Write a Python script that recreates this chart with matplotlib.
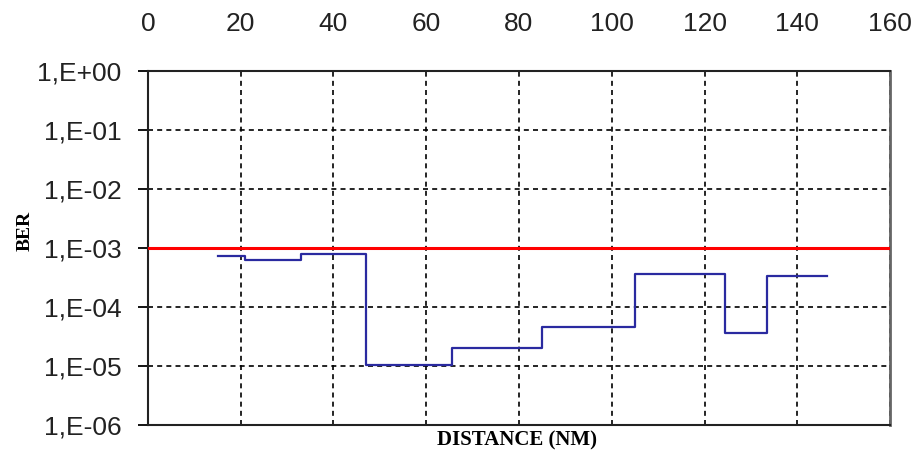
import numpy as np
import matplotlib
matplotlib.use("Agg")
import matplotlib.pyplot as plt

# distance (NM) where each BER level starts, last point closes the final step
distance = [15, 21, 33, 47, 65.5, 85, 105, 124.5, 133.5, 146.5]
ber = [7.3e-4, 6.2e-4, 7.8e-4, 1.05e-5, 2.0e-5, 4.6e-5, 3.6e-4, 3.6e-5, 3.4e-4, 3.4e-4]
ber_limit = 1e-3

x_ticks = [0, 20, 40, 60, 80, 100, 120, 140, 160]
y_ticks = [1e0, 1e-1, 1e-2, 1e-3, 1e-4, 1e-5, 1e-6]
y_labels = ["1,E+00", "1,E-01", "1,E-02", "1,E-03", "1,E-04", "1,E-05", "1,E-06"]

fig = plt.figure(figsize=(9.15, 4.53), dpi=100)
ax = fig.add_axes([0.1617, 0.0618, 0.8110, 0.7815])

ax.step(distance, ber, where="post", color="#2a2aa0", linewidth=1.6, zorder=3)
ax.axhline(ber_limit, color="#ff0000", linewidth=2.2, zorder=4)

ax.set_yscale("log")
ax.set_xlim(0, 160)
ax.set_ylim(1e-6, 1e0)
ax.set_yticks(y_ticks)
ax.set_yticklabels(y_labels)
ax.minorticks_off()
ax.set_xticks(x_ticks)
ax.xaxis.tick_top()

ax.tick_params(axis="x", length=0, pad=25, labelsize=19, labelcolor="#222222")
ax.tick_params(axis="y", length=7, width=1.3, pad=12, labelsize=19, labelcolor="#222222")
for lab in ax.get_xticklabels() + ax.get_yticklabels():
    lab.set_family("Liberation Sans")

ax.grid(True, which="major", color="black", linestyle=(0, (3, 2.5)), linewidth=1.2)

for side in ["left", "top", "bottom"]:
    ax.spines[side].set_color("#222222")
    ax.spines[side].set_linewidth(1.5)
ax.spines["right"].set_color("#666666")
ax.spines["right"].set_linewidth(2)

fig.text(0.565, 0.028, "DISTANCE (NM)", ha="center", va="center",
         family="Liberation Serif", fontweight="bold", fontsize=15)
fig.text(0.027, 0.49, "BER", ha="center", va="center", rotation=90,
         family="Liberation Serif", fontweight="bold", fontsize=14)

fig.savefig("out.png", dpi=100)
